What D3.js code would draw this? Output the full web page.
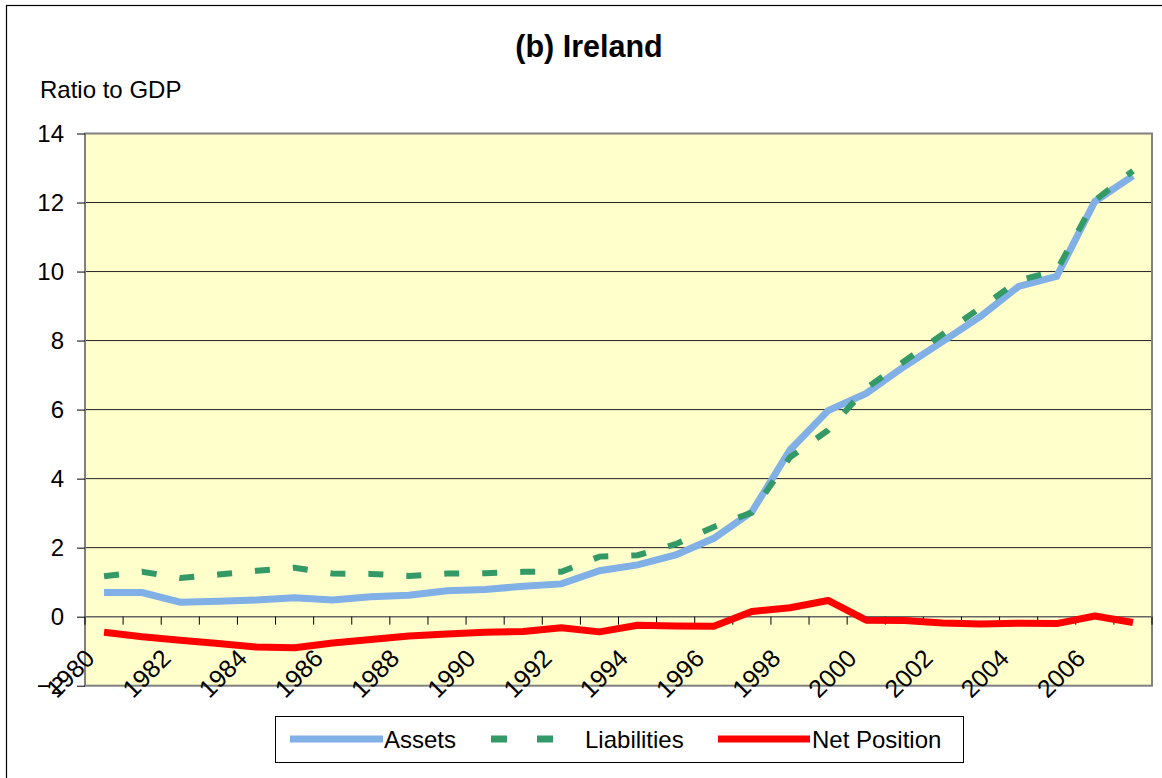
<!DOCTYPE html>
<html>
<head>
<meta charset="utf-8">
<script src="https://cdn.jsdelivr.net/npm/d3@7"></script>
<style>
  body { margin: 0; background: #fff; }
  text { font-family: "Liberation Sans", Arial, sans-serif; fill: #000; }
</style>
</head>
<body>
<div id="chart"></div>
<script>
// data (ratio to GDP)
const years = d3.range(1980, 2008);
const assets = [0.70, 0.70, 0.42, 0.45, 0.48, 0.55, 0.48, 0.58, 0.62, 0.75,
  0.79, 0.88, 0.95, 1.33, 1.50, 1.79, 2.27, 3.04, 4.83, 5.97,
  6.47, 7.25, 7.97, 8.70, 9.57, 9.86, 12.03, 12.77];
const liabilities = [1.17, 1.30, 1.12, 1.22, 1.33, 1.42, 1.25, 1.24, 1.18, 1.25,
  1.26, 1.30, 1.30, 1.74, 1.78, 2.10, 2.60, 3.02, 4.62, 5.40,
  6.62, 7.40, 8.18, 8.95, 9.74, 10.03, 12.06, 12.92];
const netPosition = [-0.45, -0.58, -0.68, -0.78, -0.88, -0.90, -0.76, -0.66, -0.56, -0.50,
  -0.45, -0.43, -0.32, -0.44, -0.25, -0.27, -0.28, 0.15, 0.26, 0.47,
  -0.10, -0.11, -0.18, -0.21, -0.19, -0.20, 0.02, -0.17];
const yTicks = [-2, 0, 2, 4, 6, 8, 10, 12, 14];
const xLabelYears = years.filter(function(d) { return d % 2 === 0; });

const W = 1162, H = 778;
const plot = {left: 85, right: 1152, top: 133.5, bottom: 685.7};

const svg = d3.select('#chart').append('svg')
  .attr('width', W)
  .attr('height', H);

// outer frame
svg.append('rect')
  .attr('x', 6.5).attr('y', 5.5)
  .attr('width', W).attr('height', H)
  .attr('fill', '#fff')
  .attr('stroke', '#000')
  .attr('stroke-width', 1.2);

const x = d3.scaleBand()
  .domain(years)
  .range([plot.left, plot.right]);

const y = d3.scaleLinear()
  .domain([-2, 14])
  .range([plot.bottom, plot.top]);

// plot area
svg.append('rect')
  .attr('x', plot.left).attr('y', plot.top)
  .attr('width', plot.right - plot.left)
  .attr('height', plot.bottom - plot.top)
  .attr('fill', '#ffffcc');

// gridlines
svg.append('g')
  .selectAll('line')
  .data(yTicks.filter(function(d) { return d > -2 && d < 14; }))
  .join('line')
  .attr('x1', plot.left).attr('x2', plot.right)
  .attr('y1', function(d) { return y(d); })
  .attr('y2', function(d) { return y(d); })
  .attr('stroke', function(d) { return d === 0 ? '#666' : '#222'; })
  .attr('stroke-width', function(d) { return d === 0 ? 1.6 : 1; });

// plot border
svg.append('rect')
  .attr('x', plot.left).attr('y', plot.top)
  .attr('width', plot.right - plot.left)
  .attr('height', plot.bottom - plot.top)
  .attr('fill', 'none')
  .attr('stroke', '#808080')
  .attr('stroke-width', 2);

// y axis
const yAxis = svg.append('g')
  .attr('transform', 'translate(' + plot.left + ',0)')
  .call(d3.axisLeft(y).tickValues(yTicks).tickSize(8).tickPadding(13));
yAxis.select('.domain').remove();
yAxis.selectAll('line').attr('stroke', '#000');
yAxis.selectAll('text')
  .style('font-size', '24px')
  .style('font-family', '"Liberation Sans", Arial, sans-serif');

// category ticks on the zero line
const bounds = years.map(function(d) { return x(d); }).concat([plot.right]);
svg.append('g')
  .selectAll('line')
  .data(bounds)
  .join('line')
  .attr('x1', function(d) { return d; })
  .attr('x2', function(d) { return d; })
  .attr('y1', y(0))
  .attr('y2', y(0) + 8)
  .attr('stroke', '#000');

// rotated year labels
const bw = x.bandwidth();
svg.append('g')
  .selectAll('text')
  .data(xLabelYears)
  .join('text')
  .attr('transform', function(d) {
    return 'translate(' + (x(d) + bw / 2 - 8) + ',' + 660 + ') rotate(-45)';
  })
  .attr('text-anchor', 'end')
  .style('font-size', '25px')
  .text(function(d) { return d; });

// series
const line = d3.line()
  .x(function(d, i) { return x(years[i]) + bw / 2; })
  .y(function(d) { return y(d); });

svg.append('path')
  .datum(assets)
  .attr('d', line)
  .attr('fill', 'none')
  .attr('stroke', '#80b0e6')
  .attr('stroke-width', 7);

svg.append('path')
  .datum(liabilities)
  .attr('d', line)
  .attr('fill', 'none')
  .attr('stroke', '#339966')
  .attr('stroke-width', 6)
  .attr('stroke-dasharray', '15,23');

svg.append('path')
  .datum(netPosition)
  .attr('d', line)
  .attr('fill', 'none')
  .attr('stroke', '#ff0000')
  .attr('stroke-width', 7)
  .attr('stroke-linejoin', 'round');

// title and unit label
svg.append('text')
  .attr('x', 589).attr('y', 57)
  .attr('text-anchor', 'middle')
  .style('font-size', '30.5px')
  .style('font-weight', 'bold')
  .text('(b) Ireland');

svg.append('text')
  .attr('x', 40).attr('y', 98)
  .style('font-size', '24px')
  .text('Ratio to GDP');

// legend
const legend = svg.append('g');
legend.append('rect')
  .attr('x', 275.5).attr('y', 716.5)
  .attr('width', 688).attr('height', 46)
  .attr('fill', '#fff')
  .attr('stroke', '#000');

const legendItems = [
  {name: 'Assets', color: '#80b0e6', x1: 290, x2: 383, tx: 384, dash: null},
  {name: 'Liabilities', color: '#339966', x1: 491, x2: 554, tx: 585, dash: '16,30'},
  {name: 'Net Position', color: '#ff0000', x1: 718, x2: 810, tx: 812, dash: null}
];
legendItems.forEach(function(it) {
  legend.append('line')
    .attr('x1', it.x1).attr('x2', it.x2)
    .attr('y1', 739).attr('y2', 739)
    .attr('stroke', it.color)
    .attr('stroke-width', 7)
    .attr('stroke-dasharray', it.dash);
  legend.append('text')
    .attr('x', it.tx).attr('y', 748)
    .style('font-size', '24px')
    .text(it.name);
});
</script>
</body>
</html>
